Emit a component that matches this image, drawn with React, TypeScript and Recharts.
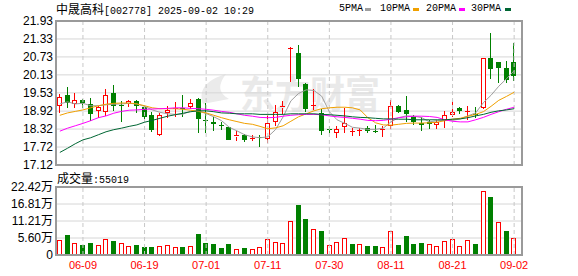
import React from "react"
import { ComposedChart, Bar, Line, XAxis, YAxis, CartesianGrid, ReferenceLine } from "recharts"

// trading days shown on the K-line (suspension 07-16 ~ 07-22)
const dates = [
  "06-04", "06-05", "06-06", "06-09", "06-10", "06-11", "06-12", "06-13", "06-16", "06-17",
  "06-18", "06-19", "06-20", "06-23", "06-24", "06-25", "06-26", "06-27", "06-30", "07-01",
  "07-02", "07-03", "07-04", "07-07", "07-08", "07-09", "07-10", "07-11", "07-14", "07-15",
  "07-23", "07-24", "07-25", "07-28", "07-29", "07-30", "07-31", "08-01", "08-04", "08-05",
  "08-06", "08-07", "08-08", "08-11", "08-12", "08-13", "08-14", "08-15", "08-18", "08-19",
  "08-20", "08-21", "08-22", "08-25", "08-26", "08-27", "08-28", "08-29", "09-01", "09-02",
]

const openPx = [
  19.09, 19.46, 19.15, 19.30, 19.15, 18.93, 18.89, 19.53, 19.13, 19.16,
  19.26, 19.06, 18.80, 18.11, 18.85, 18.98, 19.01, 19.07, 19.33, 18.63,
  18.57, 18.45, 18.38, 18.06, 18.11, 18.00, 18.06, 17.98, 18.55, 19.01,
  21.02, 20.87, 19.83, 19.08, 18.87, 18.33, 18.19, 18.39, 18.22, 18.26,
  18.36, 18.25, 18.29, 18.43, 19.10, 18.96, 18.74, 18.52, 18.55, 18.45,
  18.63, 18.80, 19.01, 18.91, 18.83, 19.02, 20.69, 20.55, 20.35, 20.55,
]
const highPx = [
  19.50, 19.73, 19.53, 19.32, 19.36, 19.08, 19.65, 19.80, 19.26, 19.30,
  19.28, 19.10, 18.88, 18.87, 19.10, 19.24, 19.46, 19.31, 19.35, 19.19,
  18.73, 18.57, 18.39, 18.24, 18.16, 18.11, 18.13, 18.81, 19.13, 19.26,
  21.05, 21.13, 19.85, 19.65, 19.00, 18.43, 18.43, 19.03, 18.36, 18.36,
  18.42, 18.46, 18.41, 19.30, 19.13, 19.43, 18.80, 18.73, 18.61, 18.63,
  18.93, 19.26, 19.06, 19.10, 19.06, 20.69, 21.53, 20.56, 20.60, 21.20,
]
const lowPx = [
  18.87, 19.02, 19.01, 19.03, 18.60, 18.70, 18.76, 18.91, 18.56, 19.06,
  18.85, 18.65, 18.21, 18.10, 18.70, 18.72, 18.73, 19.00, 18.19, 18.19,
  18.27, 18.30, 17.94, 17.91, 17.90, 17.91, 17.71, 17.85, 18.43, 18.83,
  19.90, 19.73, 18.90, 18.96, 18.13, 18.20, 18.02, 18.20, 18.08, 18.08,
  18.20, 18.19, 18.07, 18.33, 18.86, 18.56, 18.45, 18.24, 18.32, 18.31,
  18.35, 18.73, 18.83, 18.61, 18.68, 19.00, 19.99, 19.86, 19.85, 19.92,
]
const closePx = [
  19.39, 19.19, 19.29, 19.20, 18.81, 19.06, 19.46, 19.08, 19.10, 19.25,
  19.10, 18.73, 18.30, 18.80, 18.96, 19.01, 18.98, 19.20, 18.65, 18.58,
  18.50, 18.41, 17.95, 18.11, 17.94, 18.02, 18.03, 18.52, 18.90, 19.10,
  21.04, 19.99, 19.00, 19.11, 18.27, 18.30, 18.32, 18.52, 18.24, 18.29,
  18.27, 18.23, 18.32, 19.10, 18.89, 18.81, 18.55, 18.47, 18.48, 18.55,
  18.80, 18.89, 18.91, 18.93, 18.79, 20.69, 20.32, 20.36, 19.96, 20.09,
]
// 成交量 (手)
const volume = [
  49500, 66000, 38500, 33000, 38500, 33000, 52000, 46000, 38500, 30000,
  33000, 26400, 26400, 30000, 33000, 26400, 26400, 30000, 70000, 38500,
  35000, 23000, 35000, 20000, 24000, 20000, 25000, 52000, 44000, 38500,
  112000, 165000, 119000, 85000, 79000, 33000, 43000, 55000, 36000, 36000,
  30000, 30000, 26000, 78000, 33000, 63000, 36000, 38500, 36000, 31000,
  46000, 52000, 31000, 49000, 36000, 210000, 191000, 109000, 79000, 55019,
]

const ma5 = [
  19.16, 19.23, 19.16, 19.18, 19.10, 19.10, 19.13, 19.15, 19.16, 19.18,
  19.16, 19.08, 18.96, 18.88, 18.83, 18.81, 18.82, 18.92, 18.92, 18.84,
  18.73, 18.60, 18.38, 18.26, 18.13, 18.06, 18.03, 18.06, 18.30, 18.73,
  19.26, 19.51, 19.63, 19.61, 19.42, 18.90, 18.63, 18.51, 18.38, 18.35,
  18.31, 18.31, 18.35, 18.56, 18.70, 18.76, 18.75, 18.70, 18.56, 18.60,
  18.61, 18.61, 18.66, 18.76, 18.86, 19.20, 19.45, 19.75, 20.00, 20.27,
]
const ma10 = [
  18.78, 18.86, 18.91, 18.96, 19.03, 19.10, 19.15, 19.18, 19.19, 19.19,
  19.16, 19.10, 19.03, 19.00, 19.00, 19.00, 18.98, 18.95, 18.91, 18.86,
  18.78, 18.70, 18.63, 18.57, 18.51, 18.48, 18.41, 18.33, 18.36, 18.43,
  18.58, 18.73, 18.83, 18.93, 19.00, 19.03, 19.05, 19.05, 19.03, 18.96,
  18.70, 18.53, 18.46, 18.45, 18.48, 18.51, 18.52, 18.52, 18.53, 18.55,
  18.60, 18.65, 18.68, 18.75, 18.81, 18.90, 19.08, 19.28, 19.41, 19.55,
]
const ma20 = [
  18.25, 18.35, 18.43, 18.51, 18.60, 18.70, 18.76, 18.85, 18.91, 18.95,
  18.96, 18.98, 18.99, 19.00, 19.01, 19.03, 19.03, 19.01, 19.00, 18.98,
  18.95, 18.91, 18.88, 18.83, 18.78, 18.75, 18.71, 18.70, 18.71, 18.75,
  18.78, 18.80, 18.81, 18.81, 18.80, 18.76, 18.73, 18.71, 18.68, 18.65,
  18.61, 18.60, 18.61, 18.65, 18.70, 18.73, 18.75, 18.75, 18.74, 18.71,
  18.63, 18.58, 18.56, 18.56, 18.63, 18.71, 18.81, 18.90, 18.98, 19.05,
]
const ma30 = [
  17.54, 17.68, 17.83, 17.96, 18.03, 18.13, 18.23, 18.30, 18.35, 18.41,
  18.46, 18.55, 18.61, 18.68, 18.75, 18.80, 18.85, 18.90, 18.93, 18.93,
  18.90, 18.86, 18.85, 18.83, 18.83, 18.83, 18.81, 18.81, 18.81, 18.81,
  18.83, 18.83, 18.83, 18.83, 18.81, 18.80, 18.78, 18.76, 18.73, 18.71,
  18.70, 18.68, 18.66, 18.66, 18.65, 18.65, 18.63, 18.63, 18.63, 18.63,
  18.63, 18.65, 18.66, 18.70, 18.76, 18.81, 18.88, 18.93, 18.96, 19.00,
]

const priceTicks = [17.12, 17.72, 18.32, 18.92, 19.53, 20.13, 20.73, 21.33, 21.93]
const volTicks = [0, 56050, 112100, 168150, 224200]
const volTickLabels = ["0", "5.60万", "11.21万", "16.81万", "22.42万"]
const labelDates = ["06-09", "06-19", "07-01", "07-11", "07-30", "08-11", "08-21", "09-02"]

const RED = "#ff0000"
const GREEN = "#008000"
const mono = "'Liberation Mono', 'DejaVu Sans Mono', monospace"
const cjk = "'Noto Sans CJK SC', sans-serif"
const sans = "'Liberation Sans', Arial, 'Noto Sans CJK SC', sans-serif"

const rows = dates.map((d, i) => ({
  date: d,
  open: openPx[i],
  high: highPx[i],
  low: lowPx[i],
  close: closePx[i],
  range: [lowPx[i], highPx[i]],
  vol: volume[i],
  volUp: i === 0 ? closePx[i] >= openPx[i] : closePx[i] >= closePx[i - 1],
  ma5: ma5[i],
  ma10: ma10[i],
  ma20: ma20[i],
  ma30: ma30[i],
}))

function CandleShape(props: any) {
  const { x, y, width, height, payload } = props
  if (!payload || x == null || y == null) return null
  const top = height < 0 ? y + height : y
  const span = Math.abs(height)
  const { open, close, high, low } = payload
  const toY = (p: number) => top + ((high - p) / (high - low || 1)) * span
  const cx = Math.floor(x + width / 2)
  const up = close >= open
  const color = up ? RED : GREEN
  const yHigh = Math.round(toY(high))
  const yLow = Math.round(toY(low))
  const bTop = Math.round(toY(Math.max(open, close)))
  let bBot = Math.round(toY(Math.min(open, close)))
  if (bBot - bTop < 1) bBot = bTop + 1
  if (up) {
    return (
      <g shapeRendering="crispEdges">
        <line x1={cx + 0.5} x2={cx + 0.5} y1={yHigh} y2={bTop} stroke={color} />
        <line x1={cx + 0.5} x2={cx + 0.5} y1={bBot} y2={yLow} stroke={color} />
        {bBot - bTop <= 2 ? (
          <line x1={cx - 2} x2={cx + 3} y1={bTop + 0.5} y2={bTop + 0.5} stroke={color} />
        ) : (
          <rect x={cx - 1.5} y={bTop + 0.5} width={4} height={bBot - bTop - 1} fill="#fff" stroke={color} />
        )}
      </g>
    )
  }
  return (
    <g shapeRendering="crispEdges">
      <line x1={cx + 0.5} x2={cx + 0.5} y1={yHigh} y2={yLow} stroke={color} />
      <rect x={cx - 2} y={bTop} width={5} height={bBot - bTop} fill={color} />
    </g>
  )
}

function VolShape(props: any) {
  const { x, y, width, height, payload } = props
  if (!payload || x == null || y == null) return null
  const cx = Math.floor(x + width / 2)
  const top = Math.round(y)
  const bot = Math.round(y + height)
  if (payload.volUp) {
    return (
      <rect x={cx - 1.5} y={top + 0.5} width={4} height={Math.max(0, bot - top - 1)}
        fill="#fff" stroke={RED} shapeRendering="crispEdges" />
    )
  }
  return <rect x={cx - 2} y={top} width={5} height={bot - top} fill={GREEN} shapeRendering="crispEdges" />
}

const boxStyle = (left: number, top: number, w: number, h: number): React.CSSProperties => ({
  position: "absolute", left, top, width: w, height: h, boxSizing: "border-box",
  border: "2px solid #9a9a9a", pointerEvents: "none",
})

export default function App() {
  return (
    <div style={{ position: "absolute", left: 0, top: 0, width: 578, height: 276, background: "#fff", overflow: "hidden" }}>
      {/* watermark */}
      <svg width={578} height={276} style={{ position: "absolute", left: 0, top: 0 }}>
        <path d="M203 104 C198 90 206 80 226 74 C217 86 219 93 229 99 C220 101 211 102 203 104 Z" fill="#ebebeb" />
        <text x={240} y={108} fontSize={38} fontWeight={700} fill="#e9e9e9" fontFamily={cjk}
          textLength={140} lengthAdjust="spacingAndGlyphs">东方财富</text>
      </svg>

      <div style={{ position: "absolute", left: 0, top: 0 }}>
        <ComposedChart width={578} height={178} data={rows} margin={{ top: 21, right: 56, bottom: 13, left: 0 }}>
          <CartesianGrid vertical={false} stroke="#d6d6d6" />
          <XAxis dataKey="date" hide padding={{ left: 0, right: 4 }} />
          <YAxis
            domain={[17.12, 21.93]}
            ticks={priceTicks}
            interval={0}
            allowDataOverflow
            width={56}
            tickLine={false}
            axisLine={false}
            tickSize={0}
            tickMargin={3}
            tickFormatter={(v: number) => v.toFixed(2)}
            tick={{ fontSize: 12, fill: "#000", fontFamily: sans }}
          />
          {labelDates.map((d) => (
            <ReferenceLine key={d} x={d} stroke="#c8c8c8" strokeDasharray="4 3" />
          ))}
          <Bar dataKey="range" barSize={5} shape={CandleShape} isAnimationActive={false} />
          <Line dataKey="ma5" stroke="#9e9e9e" strokeWidth={1} dot={false} activeDot={false} isAnimationActive={false} />
          <Line dataKey="ma10" stroke="#f0a000" strokeWidth={1} dot={false} activeDot={false} isAnimationActive={false} />
          <Line dataKey="ma20" stroke="#ff00ff" strokeWidth={1} dot={false} activeDot={false} isAnimationActive={false} />
          <Line dataKey="ma30" stroke="#006633" strokeWidth={1} dot={false} activeDot={false} isAnimationActive={false} />
        </ComposedChart>
      </div>

      <div style={{ position: "absolute", left: 0, top: 170 }}>
        <ComposedChart width={578} height={106} data={rows} margin={{ top: 17, right: 56, bottom: 0, left: 0 }}>
          <CartesianGrid vertical={false} stroke="#d6d6d6" />
          <XAxis
            dataKey="date"
            ticks={labelDates}
            interval={0}
            height={21}
            padding={{ left: 0, right: 4 }}
            tickLine={false}
            axisLine={false}
            tickSize={0}
            tickMargin={6}
            tick={{ fontSize: 11, fill: RED, fontFamily: sans }}
          />
          <YAxis
            domain={[0, 224200]}
            ticks={volTicks}
            interval={0}
            allowDataOverflow
            width={56}
            tickLine={false}
            axisLine={false}
            tickSize={0}
            tickMargin={3}
            tickFormatter={(v: number) => volTickLabels[volTicks.indexOf(v)]}
            tick={{ fontSize: 12, fill: "#000", fontFamily: sans }}
          />
          {labelDates.map((d) => (
            <ReferenceLine key={d} x={d} stroke="#c8c8c8" strokeDasharray="4 3" />
          ))}
          <Bar dataKey="vol" barSize={5} shape={VolShape} isAnimationActive={false} />
        </ComposedChart>
      </div>

      {/* panel borders */}
      <div style={boxStyle(55, 20, 468, 146)} />
      <div style={boxStyle(55, 186, 468, 70)} />

      {/* title */}
      <div style={{ position: "absolute", left: 56, top: 1, height: 16, lineHeight: "16px", whiteSpace: "pre", color: "#000" }}>
        <span style={{ fontFamily: cjk, fontSize: 12 }}>中晟高科</span>
        <span style={{ fontFamily: mono, fontSize: 10 }}>[002778] 2025-09-02 10:29</span>
      </div>

      {/* MA legend */}
      {[
        { t: "5PMA", x: 339, dx: 365, c: "#9e9e9e" },
        { t: "10PMA", x: 380, dx: 413, c: "#f0a000" },
        { t: "20PMA", x: 426, dx: 459, c: "#ff00ff" },
        { t: "30PMA", x: 471, dx: 505, c: "#006633" },
      ].map((m) => (
        <React.Fragment key={m.t}>
          <div style={{ position: "absolute", left: m.x, top: 1, lineHeight: "16px", fontFamily: mono, fontSize: 10, color: "#000" }}>{m.t}</div>
          <div style={{ position: "absolute", left: m.dx, top: 8, width: 6, height: 3, background: m.c }} />
        </React.Fragment>
      ))}

      {/* volume caption */}
      <div style={{ position: "absolute", left: 57, top: 170, height: 16, lineHeight: "16px", whiteSpace: "pre", color: "#000" }}>
        <span style={{ fontFamily: cjk, fontSize: 12 }}>成交量</span>
        <span style={{ fontFamily: mono, fontSize: 10 }}>:55019</span>
      </div>
    </div>
  )
}
